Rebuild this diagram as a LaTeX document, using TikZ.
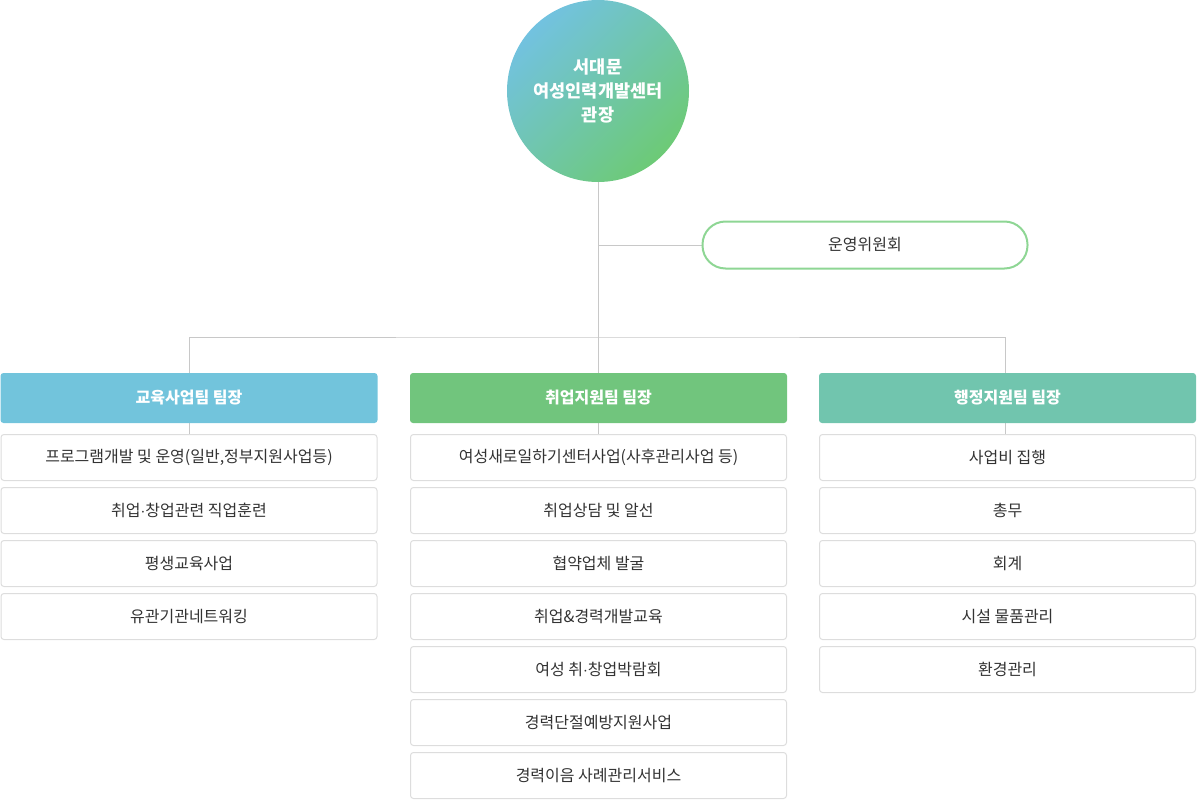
\documentclass[tikz,border=0pt]{standalone}
\usepackage{fontspec}
\setmainfont{Noto Sans CJK KR}
\usetikzlibrary{backgrounds}
\definecolor{edublue}{HTML}{72C4DC}
\definecolor{jobgreen}{HTML}{71C57D}
\definecolor{admteal}{HTML}{71C5AE}
\definecolor{circblue}{HTML}{72C2E0}
\definecolor{circgreen}{HTML}{6DCA76}
\definecolor{commline}{HTML}{8ED694}
\definecolor{linkgray}{HTML}{C8C8C8}
\definecolor{boxgray}{HTML}{DDDDDD}
\definecolor{txtgray}{HTML}{333333}
\tikzset{
	headbox/.style={rounded corners=3pt, minimum width=377pt, minimum height=50pt, inner sep=0pt, text=white, font=\fontsize{16}{20}\selectfont\bfseries},
	itembox/.style={draw=boxgray, fill=white, line width=1pt, rounded corners=3pt, minimum width=376pt, minimum height=46pt, inner sep=0pt, text=txtgray, font=\fontsize{16}{20}\selectfont},
	link/.style={draw=linkgray, line width=1pt}
}

\begin{document}
\begin{tikzpicture}[x=1pt, y=-1pt]
		%%%%% START %%%%%
		\useasboundingbox (0, 0) rectangle (1197, 800);
		
		\node[circle, minimum size=182pt, inner sep=0pt, top color=circblue, bottom color=circgreen, shading angle=45, text=white, align=center, font=\fontsize{17.5}{24}\selectfont\bfseries] (chief) at (598, 91) {서대문\\여성인력개발센터\\관장};
		
		\node[draw=commline, line width=2pt, fill=white, rounded corners=23pt, minimum width=325pt, minimum height=47pt, text=txtgray, font=\fontsize{16}{20}\selectfont] (board) at (865, 245) {운영위원회};
		\coordinate (bus) at (598, 337);
		
		\node[headbox, fill=edublue] (hedu) at (189, 398) {교육사업팀 팀장};
		\node[headbox, fill=jobgreen] (hjob) at (598.5, 398) {취업지원팀 팀장};
		\node[headbox, fill=admteal] (hadm) at (1007.5, 398) {행정지원팀 팀장};
		
		\node[itembox] (edu1) at (189, 457.5) {프로그램개발 및 운영(일반,정부지원사업등)};
		\node[itembox] (edu2) at (189, 510.5) {취업$\cdot$창업관련 직업훈련};
		\node[itembox] (edu3) at (189, 563.5) {평생교육사업};
		\node[itembox] (edu4) at (189, 616.5) {유관기관네트워킹};
		
		\node[itembox] (job1) at (598.5, 457.5) {여성새로일하기센터사업(사후관리사업 등)};
		\node[itembox] (job2) at (598.5, 510.5) {취업상담 및 알선};
		\node[itembox] (job3) at (598.5, 563.5) {협약업체 발굴};
		\node[itembox] (job4) at (598.5, 616.5) {취업\&경력개발교육};
		\node[itembox] (job5) at (598.5, 669.5) {여성 취$\cdot$창업박람회};
		\node[itembox] (job6) at (598.5, 722.5) {경력단절예방지원사업};
		\node[itembox] (job7) at (598.5, 775.5) {경력이음 사례관리서비스};
		
		\node[itembox] (adm1) at (1007.5, 457.5) {사업비 집행};
		\node[itembox] (adm2) at (1007.5, 510.5) {총무};
		\node[itembox] (adm3) at (1007.5, 563.5) {회계};
		\node[itembox] (adm4) at (1007.5, 616.5) {시설 물품관리};
		\node[itembox] (adm5) at (1007.5, 669.5) {환경관리};
		
		\begin{scope}[on background layer]
			\draw[link] (chief) -- (chief |- job1);
			\draw[link] (chief |- board) -- (board.west);
			\draw[link] (edu1) |- (bus) -| ([xshift=-2.5pt]adm1.center);
		\end{scope}
		
		%%%%% END %%%%%
	\end{tikzpicture}
\end{document}
